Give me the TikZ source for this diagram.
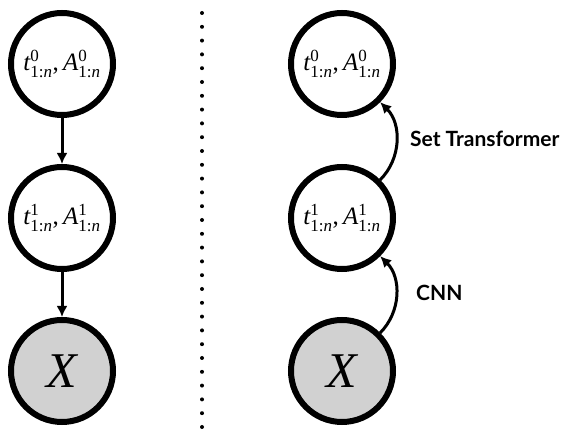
\documentclass[tikz,border=0pt]{standalone}
\usepackage{fontspec}
\newfontfamily\labelfont{Lato}
\newfontfamily\mf{Liberation Serif}
\usetikzlibrary{arrows.meta}
\newcommand\scr[1]{\hbox{\mf\fontsize{17}{17}\selectfont #1}}
\newcommand\tvar[2]{{\mf\itshape #1}$^{\scr{#2}}_{\scr{1:\itshape n}}$}
\tikzset{
  var/.style={circle, draw=black, line width=6pt, fill=white, minimum size=102pt, inner sep=0pt,
    font=\mf\fontsize{25}{28}\selectfont},
  obs/.style={var, fill=black!18, font=\mf\itshape\fontsize{50}{56}\selectfont},
  arr/.style={line width=3pt, -{Latex[length=11pt,width=11pt]}},
  lbl/.style={font=\labelfont\bfseries\fontsize{21}{25}\selectfont, inner sep=0pt},
  dotline/.style={line width=4pt, line cap=round, dash pattern=on 0pt off 13.8pt}
}
\begin{document}
\begin{tikzpicture}[x=1pt,y=-1pt]
\useasboundingbox (0,0) rectangle (563,443);
% left column
\node[var] (l0) at (62,64) {\tvar{t}{0},\,\tvar{A}{0}};
\node[var] (l1) at (62,218) {\tvar{t}{1},\,\tvar{A}{1}};
\node[obs] (lx) at (62,371) {X};
\draw[arr] (l0) -- (l1);
\draw[arr] (l1) -- (lx);
% divider
\coordinate (dtop) at (202,13);
\coordinate (dbot) at (202,440);
\draw[dotline] (dtop) -- (dbot);
% right column
\node[var] (r0) at (342,64) {\tvar{t}{0},\,\tvar{A}{0}};
\node[var] (r1) at (342,218) {\tvar{t}{1},\,\tvar{A}{1}};
\node[obs] (rx) at (342,371) {X};
\draw[arr] (rx) to[out=45,in=-45] (r1);
\draw[arr] (r1) to[out=45,in=-45] (r0);
\node[lbl, anchor=west] (st) at (410,139) {Set Transformer};
\node[lbl, anchor=west] (cnn) at (416,293) {CNN};
\end{tikzpicture}
\end{document}
